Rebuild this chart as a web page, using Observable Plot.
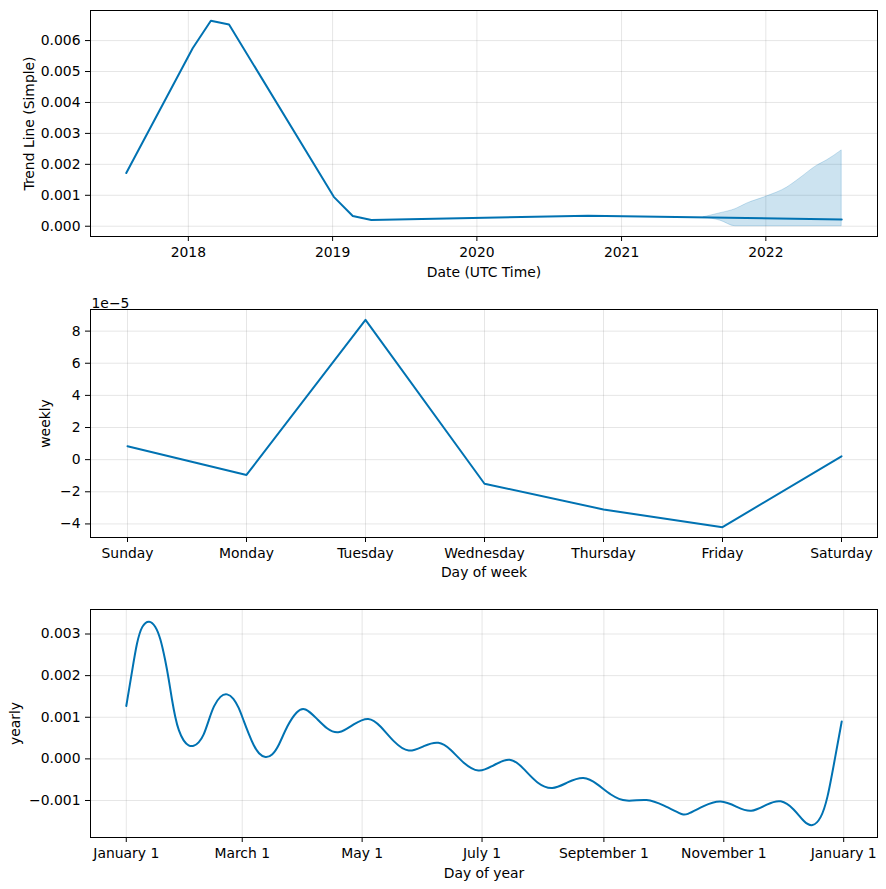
<!DOCTYPE html>
<html><head><meta charset="utf-8">
<script src="https://cdn.jsdelivr.net/npm/d3@7"></script>
<script src="https://cdn.jsdelivr.net/npm/@observablehq/plot@0.6"></script>
<style>
body{margin:0;background:#fff;}
#c svg{display:block;}
</style></head><body><div id="c"></div>
<script>
// ---------- Data ----------
// Trend component
const trendDates  = ["2017-07-28","2018-01-12","2018-02-27","2018-04-14","2019-01-04","2019-02-21","2019-04-09","2020-10-08","2022-07-12"];
const trendValues = [0.00172,0.00575,0.00664,0.00652,0.00095,0.00033,0.00020,0.00034,0.00022];
// Trend uncertainty (forecast part)
const bandDates = ["2021-07-28","2021-09-08","2021-10-16","2021-11-14","2022-01-01","2022-02-24","2022-03-29","2022-05-10","2022-06-05","2022-07-12"];
const bandLower = [0.00029,0.00018,0.00000,0.00000,0.00000,0.00000,0.00000,0.00000,0.00000,0.00000];
const bandUpper = [0.00029,0.00042,0.00055,0.00073,0.00095,0.00125,0.00155,0.00195,0.00213,0.00245];
const trendXTickLabels = ["2018","2019","2020","2021","2022"];
const trendYTicks = [0,0.001,0.002,0.003,0.004,0.005,0.006];

// Weekly component
const weekDays = ["Sunday","Monday","Tuesday","Wednesday","Thursday","Friday","Saturday"];
const weeklyValues = [0.84e-5,-0.95e-5,8.7e-5,-1.5e-5,-3.1e-5,-4.2e-5,0.21e-5];
const weeklyYTicks = [-4e-5,-2e-5,0,2e-5,4e-5,6e-5,8e-5];

// Yearly component (day of year from Jan 1, value in 1e-3)
const yearlyDays = [0,2.9,5.4,8.0,11.7,14.8,17.3,19.9,21.6,23.3,24.9,26.6,29.2,31.7,34.3,36.8,39.4,41.9,44.5,47.9,51.3,54.6,57.2,59.7,62.3,64.8,67.4,70.8,74.2,77.5,81.8,86.9,90.8,97.1,102.2,108.1,115.7,123.4,129.3,136.1,143.7,151.4,159,165,171.7,179.4,185.3,195.5,202.3,209.1,216.7,224.4,232.8,239.7,246.4,254.1,265.1,273.6,282.1,284.6,293.9,302.4,310.9,317.7,326.2,333,339.8,344.9,349.1,353.4,356.8,360.2,364];
const yearlyValues = [1.27,2.09,2.81,3.22,3.34,3.20,2.92,2.36,1.92,1.40,1.00,0.68,0.42,0.31,0.30,0.38,0.56,0.92,1.28,1.52,1.58,1.46,1.24,0.92,0.60,0.32,0.12,0.02,0.08,0.30,0.80,1.16,1.25,0.96,0.71,0.58,0.84,1.03,0.80,0.40,0.12,0.32,0.44,0.24,-0.12,-0.34,-0.20,0.08,-0.24,-0.60,-0.76,-0.56,-0.40,-0.60,-0.87,-1.05,-0.94,-1.12,-1.32,-1.37,-1.12,-0.97,-1.16,-1.31,-1.08,-0.96,-1.20,-1.53,-1.64,-1.45,-0.96,-0.08,0.90].map(v => v*1e-3);
const yearlyTickLabels = ["January 1","March 1","May 1","July 1","September 1","November 1","January 1"];
const yearlyTickDates = ["2017-01-01","2017-03-01","2017-05-01","2017-07-01","2017-09-01","2017-11-01","2018-01-01"];
const yearlyYTicks = [-0.001,0,0.001,0.002,0.003];

// ---------- Helpers ----------
const BLUE = "#0072B2";
const FONT = "DejaVu Sans";
const FS = 13.9;
function padExtent(vals, f = 0.05) {
  const [a, b] = d3.extent(vals);
  const m = (b - a) * f;
  return [a - m, b + m];
}
function padDates(dates, f = 0.05) {
  const [a, b] = padExtent(dates.map(d => +d), f);
  return [new Date(a), new Date(b)];
}
const gridStyle = {stroke: "#808080", strokeOpacity: 0.2, strokeWidth: 1};
const axisCommon = {tickSize: 5, fontSize: FS, labelAnchor: "center", labelArrow: "none", fill: "black", stroke: "black"};
const style = {fontFamily: FONT, fontSize: FS + "px", color: "black", background: "white", overflow: "visible"};
const W = 886, ML = 90, MR = 9;

// ---------- Plot 1: trend ----------
const trend = trendDates.map((d, i) => ({date: new Date(d + "T00:00:00Z"), value: trendValues[i]}));
const band = bandDates.map((d, i) => ({date: new Date(d + "T00:00:00Z"), lo: bandLower[i], hi: bandUpper[i]}));
const yearTicks = trendXTickLabels.map(y => new Date(y + "-01-01T00:00:00Z"));
const p1 = Plot.plot({
  width: W, height: 290, marginTop: 10, marginBottom: 54, marginLeft: ML, marginRight: MR,
  style,
  x: {type: "utc", domain: padDates(trend.map(d => d.date))},
  y: {domain: padExtent([...trendValues, ...bandLower, ...bandUpper])},
  marks: [
    Plot.gridX(yearTicks, gridStyle),
    Plot.gridY(trendYTicks, gridStyle),
    Plot.areaY(band, {x: "date", y1: "lo", y2: "hi", fill: BLUE, fillOpacity: 0.2, stroke: BLUE, strokeOpacity: 0.2, curve: "monotone-x"}),
    Plot.line(trend, {x: "date", y: "value", stroke: BLUE, strokeWidth: 2}),
    Plot.frame({stroke: "black", strokeWidth: 1}),
    Plot.axisX(yearTicks, {...axisCommon, tickPadding: 6, tickFormat: d => trendXTickLabels[yearTicks.findIndex(t => +t === +d)], label: "Date (UTC Time)", labelOffset: 40}),
    Plot.axisY(trendYTicks, {...axisCommon, tickPadding: 5, tickFormat: d3.format(".3f"), label: "Trend Line (Simple)", labelOffset: 66})
  ]
});

// ---------- Plot 2: weekly ----------
const weekly = weekDays.map((d, i) => ({day: d, value: weeklyValues[i]}));
const p2 = Plot.plot({
  width: W, height: 300, marginTop: 19, marginBottom: 53, marginLeft: ML, marginRight: MR,
  style,
  x: {type: "point", domain: weekDays, padding: 0.3},
  y: {domain: padExtent(weeklyValues)},
  marks: [
    Plot.gridX(weekDays, gridStyle),
    Plot.gridY(weeklyYTicks, gridStyle),
    Plot.line(weekly, {x: "day", y: "value", stroke: BLUE, strokeWidth: 2}),
    Plot.frame({stroke: "black", strokeWidth: 1}),
    Plot.text(["1e\u22125"], {frameAnchor: "top-left", textAnchor: "start", dx: 1, dy: -11, fontSize: FS, fill: "black"}),
    Plot.axisX(weekDays, {...axisCommon, tickPadding: 6, label: "Day of week", labelOffset: 39}),
    Plot.axisY(weeklyYTicks, {...axisCommon, tickPadding: 5, tickFormat: d => d3.format("d")(Math.round(d * 1e5)), label: "weekly", labelOffset: 50})
  ]
});

// ---------- Plot 3: yearly ----------
const base = Date.UTC(2017, 0, 1);
const yearly = yearlyDays.map((d, i) => ({date: new Date(base + d * 864e5), value: yearlyValues[i]}));
const yTicks = yearlyTickDates.map(d => new Date(d + "T00:00:00Z"));
const p3 = Plot.plot({
  width: W, height: 299, marginTop: 19, marginBottom: 52, marginLeft: ML, marginRight: MR,
  style,
  x: {type: "utc", domain: padDates([new Date(base), new Date(base + 364 * 864e5)])},
  y: {domain: padExtent(yearlyValues)},
  marks: [
    Plot.gridX(yTicks, gridStyle),
    Plot.gridY(yearlyYTicks, gridStyle),
    Plot.line(yearly, {x: "date", y: "value", stroke: BLUE, strokeWidth: 2, curve: "basis"}),
    Plot.frame({stroke: "black", strokeWidth: 1}),
    Plot.axisX(yTicks, {...axisCommon, tickPadding: 6, tickFormat: (d, i) => yearlyTickLabels[i], label: "Day of year", labelOffset: 40}),
    Plot.axisY(yearlyYTicks, {...axisCommon, tickPadding: 5, tickFormat: d3.format(".3f"), label: "yearly", labelOffset: 80})
  ]
});

const c = document.getElementById("c");
c.append(p1, p2, p3);
</script></body></html>
